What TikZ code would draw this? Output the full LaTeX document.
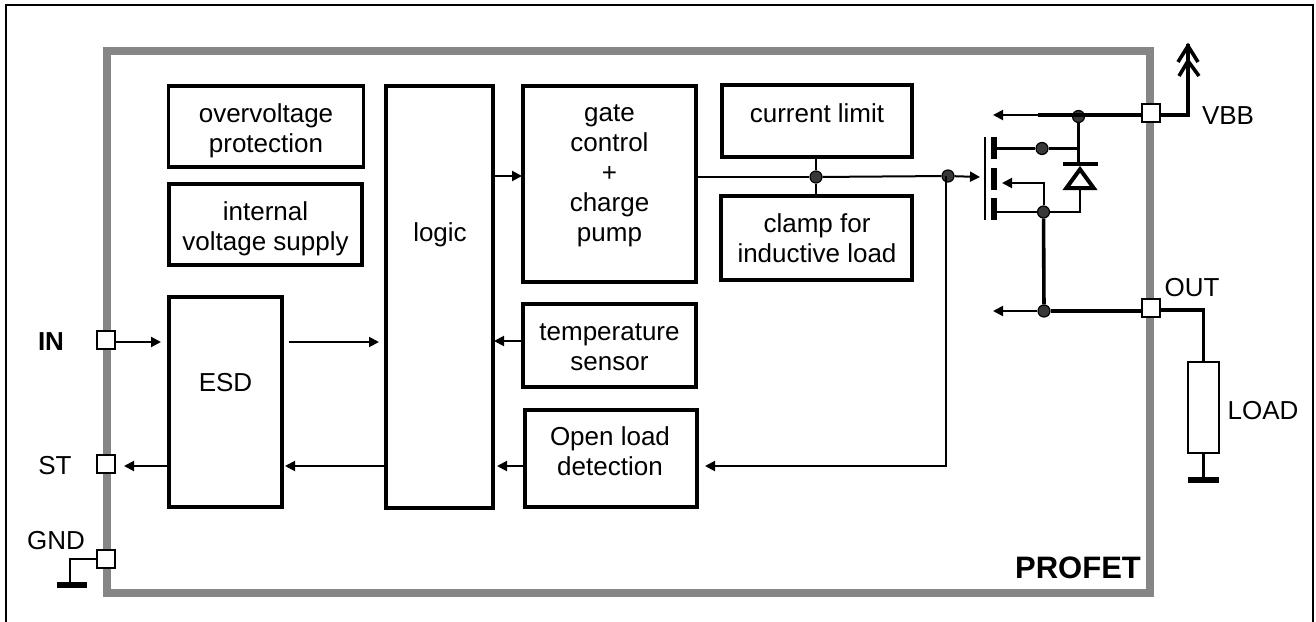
\documentclass[tikz,border=0pt]{standalone}
\usepackage{fontspec}
\setmainfont{Liberation Sans}
\usetikzlibrary{arrows.meta}
\definecolor{framegray}{HTML}{868686}
\definecolor{dotgray}{HTML}{383838}
\tikzset{
  blockbox/.style={draw=black, line width=3.5pt, fill=white, inner sep=0pt},
  blocktext/.style={align=center, inner sep=0pt, font=\fontsize{26}{30}\selectfont},
  pinbox/.style={draw=black, line width=2pt, fill=white, minimum size=18pt, inner sep=0pt},
  joindot/.style={circle, draw=black, line width=1.2pt, fill=dotgray, minimum size=12pt, inner sep=0pt},
  barnode/.style={fill=black, inner sep=0pt, outer sep=0pt},
  thinwire/.style={line width=2pt},
  midwire/.style={line width=2.6pt},
  thickwire/.style={line width=3.6pt},
  arrowwire/.style={line width=2pt, -{Triangle[length=10pt,width=10pt]}}
}
\begin{document}
\begin{tikzpicture}[x=1pt, y=-1pt]
  \useasboundingbox (0,0) rectangle (1316,621);

  % Outer frame, open at the bottom
  \draw[line width=1.8pt] (6,640) -- (6,5) -- (1313,5) -- (1313,640);

  % Chip outline
  \draw[framegray, line width=7.6pt] (107,51) rectangle (1150,593);
  \node[blocktext, font=\fontsize{31}{36}\selectfont\bfseries] (profet) at (1078,568) {PROFET};

  % Blocks
  \node[blockbox, minimum width=195pt, minimum height=81pt] (overvolt) at (266,126.5) {};
  \node[blockbox, minimum width=193pt, minimum height=81pt] (supply) at (265.5,224.5) {};
  \node[blockbox, minimum width=113pt, minimum height=210pt] (esd) at (225.5,402) {};
  \node[blockbox, minimum width=107pt, minimum height=422pt] (logic) at (439.5,297) {};
  \node[blockbox, minimum width=173pt, minimum height=196pt] (gate) at (609.5,184) {};
  \node[blockbox, minimum width=190pt, minimum height=72pt] (limit) at (817,121) {};
  \node[blockbox, minimum width=191pt, minimum height=84pt] (clamp) at (816.5,238) {};
  \node[blockbox, minimum width=173pt, minimum height=83pt] (temp) at (609.5,345.5) {};
  \node[blockbox, minimum width=172pt, minimum height=97pt] (openload) at (611,458.5) {};

  % Block texts
  \node[blocktext] (overvolttext) at (266,130.5) {overvoltage\\protection};
  \node[blocktext] (supplytext) at (265.5,228.5) {internal\\voltage supply};
  \node[blocktext] (esdtext) at (225.5,383) {ESD};
  \node[blocktext] (logictext) at (440,235) {logic};
  \node[blocktext] (gatetext) at (609.5,176) {gate\\control\\+\\charge\\pump};
  \node[blocktext] (limittext) at (817,113) {current limit};
  \node[blocktext] (clamptext) at (817,238) {clamp for\\inductive load};
  \node[blocktext] (temptext) at (609.5,347) {temperature\\sensor};
  \node[blocktext] (openloadtext) at (610,451) {Open load\\detection};

  % Pins
  \node[pinbox] (pinin) at (105.5,339.5) {};
  \node[pinbox] (pinst) at (105.5,464) {};
  \node[pinbox] (pingnd) at (105.5,559) {};
  \node[pinbox] (pinvbb) at (1151,112.5) {};
  \node[pinbox] (pinout) at (1151,308) {};

  % Pin labels
  \node[blocktext, font=\fontsize{26}{30}\selectfont\bfseries] (intext) at (51,342) {IN};
  \node[blocktext] (sttext) at (55,466) {ST};
  \node[blocktext] (gndtext) at (56,541) {GND};
  \node[blocktext] (vbbtext) at (1228,116) {VBB};
  \node[blocktext] (outtext) at (1192,288) {OUT};
  \node[blocktext] (loadtext) at (1263,411) {LOAD};

  % Left side signals
  \coordinate (inend) at (161,342);
  \coordinate (esdout) at (289,342);
  \coordinate (logicin) at (379,342);
  \coordinate (stend) at (124,466);
  \coordinate (esdback) at (285,466);
  \draw[arrowwire] (pinin.east |- inend) -- (inend);
  \draw[arrowwire] (esdout) -- (logicin);
  \draw[arrowwire] (esd.west |- stend) -- (stend);
  \draw[arrowwire] (logic.west |- esdback) -- (esdback);

  % Ground at GND
  \node[barnode, minimum width=30pt, minimum height=6pt] (gndbar) at (71.5,585) {};
  \coordinate (gndcorner) at (70,559);
  \draw[thinwire] (pingnd.west) -- (gndcorner) -- (gndcorner |- gndbar.north);

  % Signals into logic
  \coordinate (templogic) at (494,341);
  \coordinate (openlogic) at (497,466);
  \coordinate (senseend) at (705,466);
  \draw[arrowwire] (temp.west |- templogic) -- (templogic);
  \draw[arrowwire] (openload.west |- openlogic) -- (openlogic);

  % Gate line
  \coordinate (logicgate) at (522,176);
  \coordinate (gatetip) at (980,177);
  \coordinate (sensetop) at (946,176);
  \coordinate (sensecorner) at (946,466);
  \node[joindot] (limitdot) at (816,177) {};
  \node[joindot] (sensedot) at (948,176) {};
  \draw[arrowwire] (logic.east |- logicgate) -- (logicgate);
  \draw[thinwire] (gate.east |- limitdot) -- (limitdot);
  \draw[thinwire] (limitdot) -- (sensedot);
  \draw[arrowwire] (sensedot) -- (gatetip);
  \draw[thinwire] (limit.south -| limitdot) -- (limitdot) -- (clamp.north -| limitdot);
  \draw[arrowwire] (sensetop) -- (sensecorner) -- (senseend);

  % MOSFET
  \node[barnode, minimum width=2.6pt, minimum height=83pt] (plate) at (985,178.5) {};
  \node[barnode, minimum width=6pt, minimum height=22pt] (draintab) at (994,148) {};
  \node[barnode, minimum width=6pt, minimum height=22pt] (bodytab) at (994,179) {};
  \node[barnode, minimum width=6pt, minimum height=22pt] (sourcetab) at (994,209) {};
  \node[joindot] (draindot) at (1042,148.5) {};
  \node[joindot] (vbbdot) at (1078.5,116.5) {};
  \node[joindot] (sourcedot) at (1043.5,212) {};
  \node[joindot] (outdot) at (1044,311) {};

  % Diode
  \coordinate (diodetop) at (1080,164);
  \coordinate (diodebot) at (1080,189);
  \coordinate (drainjoin) at (1080,148.5);
  \coordinate (sourcejoin) at (1080,212);
  \draw[midwire] (vbbdot) -- (diodetop -| vbbdot);
  \draw[midwire] (draintab.east |- draindot) -- (draindot) -- (drainjoin);
  \draw[midwire] (sourcetab.east |- sourcedot) -- (sourcedot) -- (sourcejoin) -- (diodebot);
  \draw[line width=4pt, fill=white] (1080,169.3) -- (1066.4,188) -- (1093.6,188) -- cycle;
  \draw[line width=4pt] (1063,164) -- (1098,164);

  % Power wires
  \coordinate (vbbleft) at (1038,115);
  \coordinate (vbbtip) at (993,115);
  \coordinate (vbbcorner) at (1188,115);
  \coordinate (vbbtop) at (1188,46);
  \coordinate (bodyup) at (1043.5,183);
  \coordinate (bodytip) at (1002,183);
  \coordinate (outtip) at (993,311);
  \coordinate (outcorner) at (1203.5,310);
  \draw[arrowwire] (vbbleft) -- (vbbtip);
  \draw[thickwire] (pinvbb.west |- vbbleft) -- (vbbleft);
  \draw[thickwire, line cap=rect] (pinvbb.east |- vbbcorner) -- (vbbcorner) -- (vbbtop);
  \draw[thickwire] (1178,62) -- (vbbtop) -- (1198,62);
  \draw[thickwire] (1179,76) -- (1188,61) -- (1199,76);
  \draw[arrowwire] (sourcedot) -- (bodyup) -- (bodytip);
  \draw[thickwire] (sourcedot) -- (outdot);
  \draw[arrowwire] (outdot) -- (outtip);
  \draw[thickwire] (pinout.west |- outdot) -- (outdot);

  % Load
  \node[draw=black, line width=2pt, fill=white, minimum width=31pt, minimum height=91pt, inner sep=0pt] (load) at (1203.5,407) {};
  \node[barnode, minimum width=31pt, minimum height=6pt] (loadbar) at (1203.5,479.7) {};
  \draw[thickwire] (pinout.east |- outcorner) -- (outcorner) -- (load.north);
  \draw[midwire] (load.south) -- (loadbar.north);

  \end{tikzpicture}
\end{document}
